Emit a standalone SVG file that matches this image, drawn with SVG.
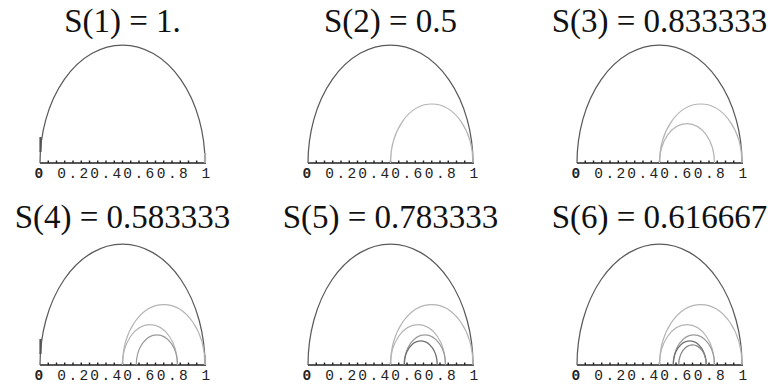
<svg xmlns="http://www.w3.org/2000/svg" xmlns:xlink="http://www.w3.org/1999/xlink" width="776" height="386" viewBox="0 0 776 386">
<style>
.title{font-family:"Liberation Serif","Times New Roman",serif;font-size:33px;fill:#111;text-anchor:middle}
.lbl{font-family:"Liberation Mono","Courier New",monospace;font-size:14.5px;fill:#222;text-anchor:middle;letter-spacing:2.4px}
.axis{stroke:#222;stroke-width:1.4;fill:none}
.tick{stroke:#222;stroke-width:1.4;fill:none}
.big{stroke:#5a5a5a;stroke-width:1.25;fill:none}
.a2,.a3{stroke:#b4b4b4;stroke-width:1.2;fill:none}
.a4{stroke:#9a9a9a;stroke-width:1.2;fill:none}
.a5{stroke:#707070;stroke-width:1.3;fill:none}
.a6{stroke:#858585;stroke-width:1.2;fill:none}
.bar{stroke:#555;stroke-width:2.2}
.gbar{stroke:#aaa;stroke-width:2.2}
</style>
<defs>
<g id="axisg">
<line class="axis" x1="0" y1="0" x2="166" y2="0"/>
<path class="tick" d="M8.25,0v-2.5M16.5,0v-2.5M24.75,0v-2.5M33,0v-2.5M41.25,0v-2.5M49.5,0v-2.5M57.75,0v-2.5M66,0v-2.5M74.25,0v-2.5M82.5,0v-2.5M90.75,0v-2.5M99,0v-2.5M107.25,0v-2.5M115.5,0v-2.5M123.75,0v-2.5M132,0v-2.5M140.25,0v-2.5M148.5,0v-2.5M156.75,0v-2.5"/>
<text class="lbl" x="0" y="15" style="font-weight:bold">0</text>
<text class="lbl" x="34" y="15">0.2</text>
<text class="lbl" x="67" y="15">0.4</text>
<text class="lbl" x="100" y="15">0.6</text>
<text class="lbl" x="133.5" y="15">0.8</text>
<text class="lbl" x="167" y="15">1</text>
</g>
<path id="a1" d="M0,0 A82.5,118 0 0 1 165,0"/>
<path id="a2" d="M82.5,0 A41.25,59 0 0 1 165,0"/>
<path id="a3" d="M82.5,0 A27.5,39.3 0 0 1 137.5,0"/>
<path id="a4" d="M96.25,0 A20.625,29.5 0 0 1 137.5,0"/>
<path id="a5" d="M96.25,0 A16.5,23.6 0 0 1 129.25,0"/>
<path id="a6" d="M101.75,0 A13.75,19.7 0 0 1 129.25,0"/>
</defs>

<g id="panel-1" transform="translate(40,163)">
<text class="title" x="82.5" y="-131">S(1) = 1.</text>
<use xlink:href="#axisg" href="#axisg"/>
<use class="big" xlink:href="#a1" href="#a1"/>
<line class="bar" x1="0.5" y1="-26" x2="0.5" y2="-11"/>
<line class="gbar" x1="165" y1="-10" x2="165" y2="0"/>
</g>

<g id="panel-2" transform="translate(308,163)">
<text class="title" x="82.5" y="-131">S(2) = 0.5</text>
<use xlink:href="#axisg" href="#axisg"/>
<use class="big" xlink:href="#a1" href="#a1"/>
<use class="a2" xlink:href="#a2" href="#a2"/>
</g>

<g id="panel-3" transform="translate(577,163)">
<text class="title" x="82.5" y="-131">S(3) = 0.833333</text>
<use xlink:href="#axisg" href="#axisg"/>
<use class="big" xlink:href="#a1" href="#a1"/>
<use class="a2" xlink:href="#a2" href="#a2"/>
<use class="a3" xlink:href="#a3" href="#a3"/>
</g>

<g id="panel-4" transform="translate(40,365)">
<text class="title" x="82.5" y="-137">S(4) = 0.583333</text>
<use xlink:href="#axisg" href="#axisg"/>
<g transform="scale(1,1.025)">
<use class="big" xlink:href="#a1" href="#a1"/>
<use class="a2" xlink:href="#a2" href="#a2"/>
<use class="a3" xlink:href="#a3" href="#a3"/>
<use class="a4" xlink:href="#a4" href="#a4"/>
</g>
<line class="bar" x1="0.5" y1="-26" x2="0.5" y2="-11"/>
<line class="gbar" x1="165" y1="-10" x2="165" y2="0"/>
</g>

<g id="panel-5" transform="translate(308,365)">
<text class="title" x="82.5" y="-137">S(5) = 0.783333</text>
<use xlink:href="#axisg" href="#axisg"/>
<g transform="scale(1,1.025)">
<use class="big" xlink:href="#a1" href="#a1"/>
<use class="a2" xlink:href="#a2" href="#a2"/>
<use class="a3" xlink:href="#a3" href="#a3"/>
<use class="a4" xlink:href="#a4" href="#a4"/>
<use class="a5" xlink:href="#a5" href="#a5"/>
</g>
</g>

<g id="panel-6" transform="translate(577,365)">
<text class="title" x="82.5" y="-137">S(6) = 0.616667</text>
<use xlink:href="#axisg" href="#axisg"/>
<g transform="scale(1,1.025)">
<use class="big" xlink:href="#a1" href="#a1"/>
<use class="a2" xlink:href="#a2" href="#a2"/>
<use class="a3" xlink:href="#a3" href="#a3"/>
<use class="a4" xlink:href="#a4" href="#a4"/>
<use class="a5" xlink:href="#a5" href="#a5"/>
<use class="a6" xlink:href="#a6" href="#a6"/>
</g>
</g>
</svg>
